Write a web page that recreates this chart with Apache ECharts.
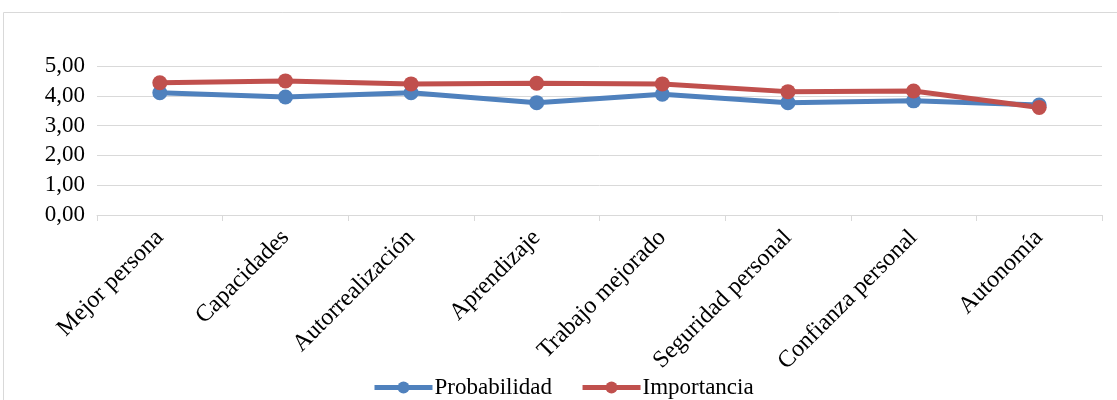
<!DOCTYPE html>
<html>
<head>
<meta charset="utf-8">
<script src="https://cdn.jsdelivr.net/npm/echarts@6/dist/echarts.min.js"></script>
<style>
  html, body { margin: 0; padding: 0; background: #fff; }
  #chart { width: 1117px; height: 400px; }
</style>
</head>
<body>
<div id="chart"></div>
<script>
// Categorías evaluadas
const categories = ['Mejor persona', 'Capacidades', 'Autorrealización', 'Aprendizaje',
  'Trabajo mejorado', 'Seguridad personal', 'Confianza personal', 'Autonomía'];
// Puntuaciones medias por serie
const probabilidad = [4.10, 3.96, 4.10, 3.77, 4.05, 3.77, 3.83, 3.69];
const importancia = [4.44, 4.50, 4.40, 4.42, 4.40, 4.14, 4.16, 3.61];

const FONT = '"Liberation Serif", "Times New Roman", serif';
const FS = 23;
const chart = echarts.init(document.getElementById('chart'));

chart.setOption({
  animation: false,
  textStyle: { fontFamily: FONT },
  graphic: [{
    type: 'rect',
    shape: { x: 3.5, y: 12.5, width: 1130, height: 400 },
    style: { fill: 'none', stroke: '#d9d9d9', lineWidth: 1 },
    silent: true
  }],
  grid: { left: 97, right: 15, top: 66, bottom: 185 },
  legend: {
    top: 376,
    left: 372,
    itemWidth: 58,
    itemHeight: 15,
    itemGap: 28,
    padding: 0,
    lineStyle: { width: 5 },
    textStyle: { fontFamily: FONT, fontSize: FS, color: '#000', padding: [0, 0, 0, -3] },
    data: ['Probabilidad', 'Importancia']
  },
  xAxis: {
    type: 'category',
    data: categories,
    boundaryGap: true,
    axisLine: { lineStyle: { color: '#d9d9d9', width: 1 } },
    axisTick: { show: true, length: 6, lineStyle: { color: '#d9d9d9' } },
    axisLabel: {
      rotate: 45,
      interval: 0,
      margin: 19,
      fontFamily: FONT,
      fontSize: 24,
      color: '#000'
    }
  },
  yAxis: {
    type: 'value',
    min: 0,
    max: 5,
    interval: 1,
    axisLine: { show: false },
    axisTick: { show: false },
    splitLine: { lineStyle: { color: '#d9d9d9', width: 1 } },
    axisLabel: {
      margin: 12,
      fontFamily: FONT,
      fontSize: FS,
      color: '#000',
      formatter: v => v.toFixed(2).replace('.', ',')
    }
  },
  series: [
    {
      name: 'Probabilidad',
      type: 'line',
      data: probabilidad,
      symbol: 'circle',
      symbolSize: 15,
      lineStyle: { color: '#4F81BD', width: 5 },
      itemStyle: { color: '#4F81BD' }
    },
    {
      name: 'Importancia',
      type: 'line',
      data: importancia,
      symbol: 'circle',
      symbolSize: 15,
      lineStyle: { color: '#C0504D', width: 5 },
      itemStyle: { color: '#C0504D' }
    }
  ]
});
</script>
</body>
</html>
